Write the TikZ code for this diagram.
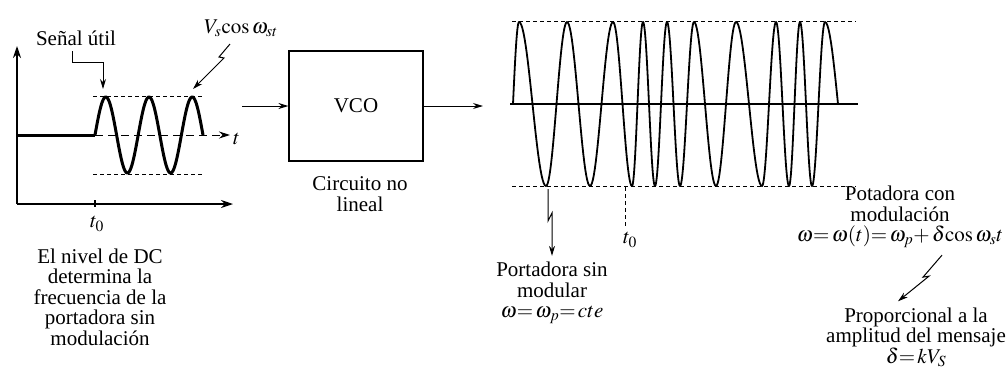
\documentclass[tikz,border=0pt]{standalone}
\usepackage{mathptmx}
\usepackage{fontspec}
\setmainfont{Liberation Serif}
\usetikzlibrary{arrows.meta, positioning, calc}

\tikzset{
  axis/.style={line width=1.2pt},
  ptr/.style={line width=1pt, -{Stealth[length=10pt,width=6pt]}},
  guide/.style={line width=0.9pt, dash pattern=on 4pt off 3pt},
  wave/.style={line width=1.8pt, line cap=round},
  lbl/.style={font=\fontsize{21}{20.5}\selectfont, align=center, inner sep=0pt},
}

\begin{document}
\begin{tikzpicture}[x=1pt,y=-1pt]
    \useasboundingbox (0,0) rectangle (1008,381);

    % input signal
    \coordinate (o) at (17,204);
    \draw[axis, -{Stealth[length=12pt,width=8pt]}] (o) -- (17,46);
    \draw[axis, -{Stealth[length=12pt,width=8pt]}] (o) -- (233,204);
    \draw[axis] (95,200) -- (95,207);
    \node[lbl] (t0a) at (97,224) {$t_0$};
    \draw[line width=3pt] (17,135) -- (95,135);
    \draw[guide] (93,96) -- (204,96);
    \draw[guide] (93,174) -- (204,174);
    \draw[line width=1pt, dash pattern=on 8pt off 5pt, -{Stealth[length=11pt,width=7pt]}] (95,135) -- (230,135);
    \node[lbl, anchor=west] (tlab) at (233,139) {$t$};
    \draw[line width=3pt, line join=round] plot[domain=0:900, samples=181] ({95+\x*0.12},{135-38*sin(\x)});

    \node[lbl] (senal) at (76,38) {Señal útil};
    \coordinate (pk1) at (103,89);
    \draw[ptr] (72,51) -- ++(0,11) -| (pk1);
    \node[lbl] (vs) at (241,28) {$V_s\mathrm{cos}\,\omega_{st}$};
    \coordinate (vs0) at (230,44);
    \coordinate (pk3) at (193,89);
    \draw[ptr] (vs0) -- ++(-11,13) -- ++(5,1) -- (pk3);

    \node[lbl] (dc) at (100,297) {El nivel de DC\\determina la\\frecuencia de la\\portadora sin\\modulación};

    % VCO block
    \node[lbl, draw, line width=1.2pt, minimum width=134pt, minimum height=110pt] (vco) at (356,106) {VCO};
    \node[lbl, below=15pt of vco, xshift=4pt] (nolin) {Circuito no\\lineal};
    \coordinate (vin) at (242,106);
    \coordinate (vout) at (483,106);
    \draw[ptr] (vin) -- (vco.west);
    \draw[ptr] (vco.east) -- (vout);

    % FM output
    \draw[guide] (512,21) -- (856,21);
    \draw[guide] (512,186) -- (856,186);
    \draw[axis] (510,104) -- (858,104);
    \draw[wave] plot[domain=0:90, samples=12] ({513+6*\x/90},{104-82*sin(\x)});
    \foreach \xa/\xb/\s in {519/546/1, 546/567/-1, 567/590/1, 590/613/-1, 613/632/1,
        632/643/-1, 643/655/1, 655/667/-1, 667/680/1, 680/694/-1, 694/716/1,
        716/736/-1, 736/762/1, 762/776/-1, 776/789/1, 789/800/-1, 800/812/1, 812/825/-1}
      \draw[wave] plot[domain=0:180, samples=25] ({\xa+(\xb-\xa)*\x/180},{104-(\s)*82*cos(\x)});
    \draw[wave] plot[domain=0:90, samples=12] ({825+13*\x/90},{104-82*cos(\x)});

    \node[lbl] (t0b) at (630,240) {$t_0$};
    \coordinate (t0w) at (625,187);
    \draw[guide] (t0w) -- (625,226);

    \node[lbl] (port) at (552,293) {Portadora sin\\modular\\$\omega{=}\,\omega_p{=}\,cte$};
    \coordinate (pa) at (548,189);
    \draw[ptr] (pa) -- ++(0,32) -- ++(4,-8) -- ($(port.north)+(0,-6)$);

    \node[lbl] (mod) at (900,217) {Potadora con\\modulación\\$\omega{=}\,\omega(t){=}\,\omega_p{+}\,\delta\mathrm{cos}\,\omega_s t$};
    \node[lbl] (prop) at (916,337) {Proporcional a la\\amplitud del mensaje\\$\delta{=}\,kV_S$};
    \draw[ptr] ($(mod.south)+(42,7)$) -- ++(-19,22) -- ++(6,-1) -- ($(prop.north)+(-18,-6)$);
\end{tikzpicture}
\end{document}
